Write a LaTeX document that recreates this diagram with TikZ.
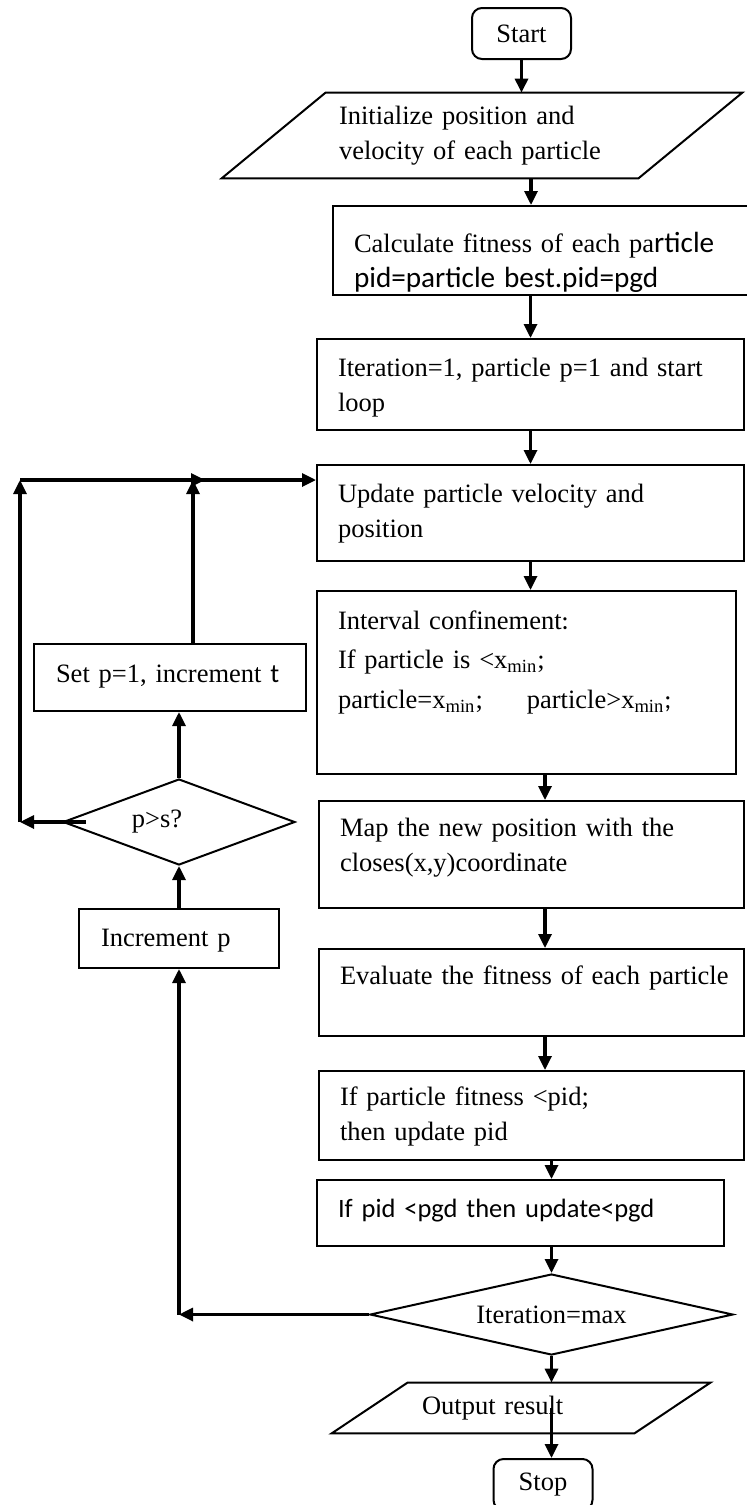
\documentclass[tikz,border=0pt]{standalone}
\usepackage{fontspec}
\setmainfont{Liberation Serif}
\newfontfamily\calib{Carlito}
\usetikzlibrary{arrows.meta, shapes.geometric}
\newcommand{\flowfont}{\fontsize{13.25pt}{17.5pt}\selectfont}
\newcommand{\calibbig}{\calib\fontsize{14.6pt}{17.5pt}\selectfont}
\tikzset{
>={Triangle[length=7pt,width=6.5pt]},
  every node/.style={font=\flowfont},
  procbox/.style n args={3}{
    rectangle,
    draw=black, line width=1pt,
    anchor=north west,
    align=left,
    inner xsep=10.5pt, inner ysep=0pt,
    text width=#1,
    text height=#2,
    text depth=#3},
  terminal/.style={
    rectangle,
    rounded corners=5pt,
    draw=black, line width=1pt,
    minimum width=49.5pt,
    minimum height=25.5pt,
    inner sep=0pt},
  iobox/.style={
    rectangle,
    align=left,
    inner ysep=0pt},
  decision/.style={
    diamond,
    draw=black, line width=1pt,
    inner sep=0pt},
  boxline/.style={draw=black, line width=1pt},
  line/.style={draw, line width=1.6pt, ->},
}

\begin{document}
\begin{tikzpicture}[x=0.5pt, y=-0.5pt]
     \path[use as bounding box, fill=white] (0,0) rectangle (747,1505);
     % main column
     \node[terminal] (Start) at (521.5,33.5) {Start};
     \node[iobox, text width=143pt, inner xsep=32.5pt, minimum height=42.5pt] (Init) at (482,135.5) {Initialize position and\\velocity of each particle};
     \draw[boxline] ([xshift=26pt]Init.north west) -- ([xshift=26pt]Init.north east) -- ([xshift=-26pt]Init.south east) -- ([xshift=-26pt]Init.south west) -- cycle;
     \node[procbox={193pt}{23pt}{21.5pt}] (Calc) at (332,205) {Calculate fitness of each pa{\calibbig rticle}\\{\calibbig pid=particle best.pid=pgd}};
     \node[procbox={192.5pt}{18.5pt}{27pt}] (Iter) at (316,338) {Iteration=1, particle p=1 and start\\loop};
     \node[procbox={192.5pt}{18.5pt}{29.5pt}] (Upd) at (316,464) {Update particle velocity and\\position};
     \node[procbox={188.5pt}{19pt}{72.5pt}] (Intv) at (316,590) {Interval confinement{\calib :}\\[2pt]If particle is <x\textsubscript{min};\\[2.5pt]particle=x\textsubscript{min};\hspace*{22pt}particle>x\textsubscript{min}{\calib ;}};
     \node[procbox={191.5pt}{17.5pt}{36pt}] (Map) at (318,800) {Map the new position with the\\closes(x,y)coordinate};
     \node[procbox={191.5pt}{17.5pt}{26pt}] (Eval) at (318,948) {\mbox{Evaluate the fitness of each particle}};
     \node[procbox={191.5pt}{17pt}{27.5pt}] (IfFit) at (318,1070) {If particle fitness <pid;\\then update pid};
     \node[procbox={182.5pt}{18.5pt}{14.5pt}] (IfPid) at (316,1179) {{\calib If pid <pgd then update<pgd}};
     \node[decision, aspect=4.48, minimum width=181.5pt, minimum height=40.5pt] (IterMax) at (551.5,1314.5) {Iteration=max};
     \node[iobox, text width=99pt, inner xsep=26pt, minimum height=25pt] (Output) at (521,1408) {Output result};
     \draw[boxline] ([xshift=19pt]Output.north west) -- ([xshift=19pt]Output.north east) -- ([xshift=-19pt]Output.south east) -- ([xshift=-19pt]Output.south west) -- cycle;
     \node[terminal] (Stop) at (543,1484.5) {Stop};
     % loop column
     \node[procbox={114pt}{19pt}{14.5pt}, inner xsep=11pt] (SetP) at (33,643) {Set p=1, increment {\calib t}};
     \node[decision, aspect=2.7, minimum width=116pt, minimum height=43pt] (PS) at (179,822) {p>s?\hspace*{22pt}};
     \node[procbox={78pt}{18.5pt}{11pt}, inner xsep=11pt] (IncP) at (78,908) {Increment p};
     \coordinate (spineA) at (531,0);
     \coordinate (spineB) at (545,0);
     \coordinate (jointop) at (193,480);
     \coordinate (backleft) at (20,480);
     \coordinate (loopcorner) at (IterMax.west -| IncP.south);
     % connectors
     \path[line] (Start.south) -- (Start.south |- Init.north);
     \path[line] (Init.south -| spineA) -- (Calc.north -| spineA);
     \path[line] (Calc.south -| Iter.north) -- (Iter.north);
     \path[line] (Iter.south) -- (Upd.north);
     \path[line] (Upd.south) -- (Upd.south |- Intv.north);
     \path[line] (Intv.south -| spineB) -- (Map.north -| spineB);
     \path[line] (Map.south -| spineB) -- (Eval.north -| spineB);
     \path[line] (Eval.south -| spineB) -- (IfFit.north -| spineB);
     \path[line] (IfFit.south -| IterMax.north) -- (IfPid.north -| IterMax.north);
     \path[line] (IfPid.south -| IterMax.north) -- (IterMax.north);
     \path[line] (IterMax.south) -- (IterMax.south |- Output.north);
     \path[line] (Output.center -| IterMax.south) -- (Stop.north -| IterMax.south);
     \path[line] (IterMax.west) -- (loopcorner);
     \path[line] (loopcorner) -- (IncP.south);
     \path[line] (IncP.north) -- (IncP.north |- PS.south);
     \path[line] (PS.north) -- (PS.north |- SetP.south);
     \path[line] (SetP.north -| jointop) -- (jointop);
     \path[line] ([xshift=12pt]PS.west) -- (PS.west -| backleft);
     \path[line] (PS.west -| backleft) -- (backleft);
     \path[line] (backleft) -- ([xshift=6pt]jointop);
     \path[line] (jointop) -- (jointop -| Upd.west);
\end{tikzpicture}
\end{document}
